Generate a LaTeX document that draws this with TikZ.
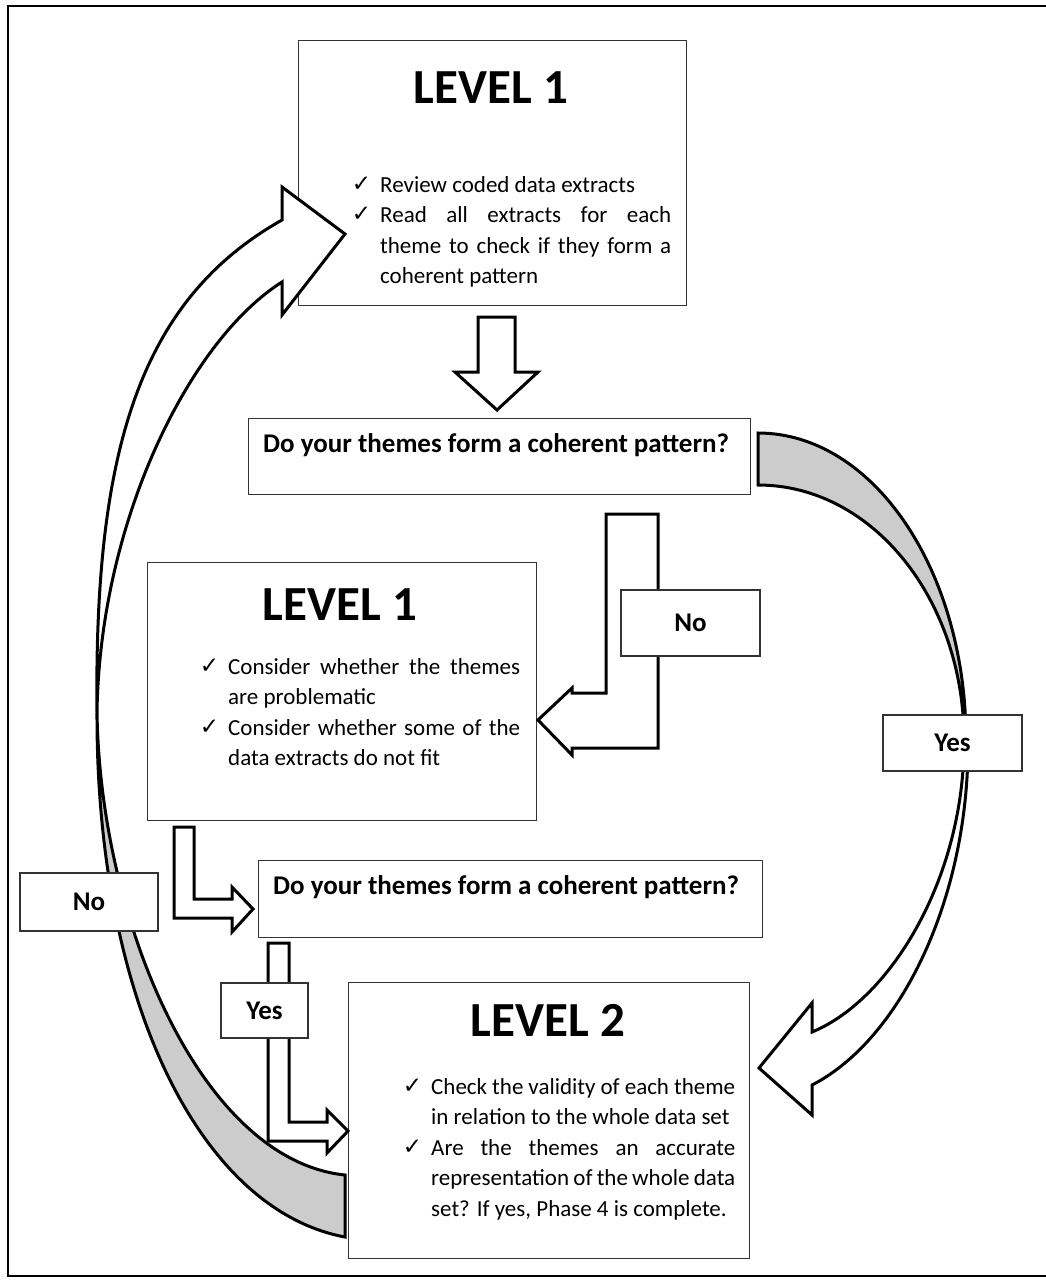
\documentclass[tikz,border=0pt]{standalone}
\usepackage{fontspec}
\setmainfont{Carlito}
\newfontfamily\symfont{DejaVu Sans}
\newcommand\tick{\leavevmode\llap{\raisebox{1pt}{\symfont\fontsize{23}{23}\selectfont ✓}\hspace{9pt}}\nobreak}
\begin{document}
\begin{tikzpicture}[x=1pt,y=-1pt,
  box/.style={draw=black!80, line width=1.3pt, fill=white, inner sep=0pt, anchor=north west},
  blockarrow/.style={draw=black, line width=3pt, fill=white, line join=miter},
  band/.style={draw=black, line width=3pt, fill=black!20, line join=miter},
  tag/.style={draw=black!80, line width=1.3pt, fill=white, inner sep=0pt,
    font=\bfseries\fontsize{27}{30}\selectfont},
  title/.style={font=\bfseries\fontsize{49}{56}\selectfont, inner sep=0pt},
  ask/.style={font=\bfseries\fontsize{27}{30}\selectfont, inner sep=0pt, anchor=base west},
  items/.style={font=\fontsize{23}{30.5}\selectfont, align=justify, inner sep=0pt,
    anchor=base west, execute at begin node={\tolerance=10000\hbadness=10000\pretolerance=-1}}
]
\useasboundingbox (0,0) rectangle (1045,1280);
\fill[white] (0,0) rectangle (1045,1280);

% page frame
\draw[line width=2pt] (1046,6) -- (8,6) -- (8,1276) -- (1046,1276);

% content boxes
\node[box, minimum width=388pt, minimum height=265pt] (lvA) at (298,40) {};
\node[box, minimum width=502pt, minimum height=76pt] (qA) at (248,418) {};
\node[box, minimum width=389pt, minimum height=258pt] (lvB) at (147,562) {};
\node[box, minimum width=504pt, minimum height=77pt] (qB) at (258,860) {};
\node[box, minimum width=401pt, minimum height=276pt] (lvC) at (348,982) {};

% texts of the boxes
\node[title] (lvAtitle) at (491,88) {LEVEL 1};
\node[items, text width=291pt] (lvAitems) at (380,192) {%
  \tick Review coded data extracts\par
  \tick Read all extracts for each\linebreak theme to check if they form a\linebreak coherent pattern\par};
\node[ask] (qAtext) at (263,452) {Do your themes form a coherent pattern?};
\node[title] (lvBtitle) at (340,605) {LEVEL 1};
\node[items, text width=292pt] (lvBitems) at (228,674) {%
  \tick Consider whether the themes\linebreak are problematic\par
  \tick Consider whether some of the\linebreak data extracts do not fit\par};
\node[ask] (qBtext) at (273,894) {Do your themes form a coherent pattern?};
\node[title] (lvCtitle) at (548,1020) {LEVEL 2};
\node[items, text width=304pt] (lvCitems) at (431,1094) {%
  \tick Check the validity of each theme\linebreak in relation to the whole data set\par
  \tick Are the themes an accurate\linebreak representation of the whole data\linebreak set? If yes, Phase 4 is complete.\par};

% left curved arrow: back face (grey) and front with head
\draw[band] (97,712) .. controls (96,1000) and (200,1210) .. (345,1237)
  -- (345,1175) .. controls (200,1160) and (100,920) .. (97,712) -- cycle;
\draw[blockarrow] (282,220) .. controls (140,300) and (94,450) .. (97,712)
  .. controls (100,520) and (190,340) .. (282,282)
  -- (282,315) -- (345,234) -- (282,187) -- cycle;

% right curved arrow: back face (grey) and front with head
\draw[band] (758,433) .. controls (873,433) and (966,570) .. (966,740)
  -- (964,740) .. controls (964,599) and (872,485) .. (758,485) -- cycle;
\draw[blockarrow] (964,745) .. controls (963,880) and (890,1000) .. (812,1032)
  -- (812,1003) -- (759,1068) -- (812,1115) -- (812,1085)
  .. controls (900,1040) and (968,900) .. (968,745) -- cycle;

% straight block arrows
\draw[blockarrow] (478,317) -- (515,317) -- (515,372) -- (538,372) -- (497,410)
  -- (455,372) -- (478,372) -- cycle;
\draw[blockarrow] (606,514) -- (658,514) -- (658,748) -- (572,748) -- (572,755)
  -- (538,720) -- (572,688) -- (572,693) -- (606,693) -- cycle;
\draw[blockarrow] (174,827) -- (194,827) -- (194,899) -- (232,899) -- (232,887)
  -- (253,909) -- (232,932) -- (232,918) -- (174,918) -- cycle;
\draw[blockarrow] (268,943) -- (289,943) -- (289,1122) -- (327,1122) -- (327,1110)
  -- (348,1131) -- (327,1153) -- (327,1141) -- (268,1141) -- cycle;

% answer labels
\node[tag, minimum width=139pt, minimum height=66pt] (noB) at (690.5,623) {No};
\node[tag, minimum width=139pt, minimum height=56pt] (yesR) at (952.5,743) {Yes};
\node[tag, minimum width=138pt, minimum height=58pt] (noL) at (89,902) {No};
\node[tag, minimum width=87pt, minimum height=55pt] (yesS) at (264.5,1010.5) {Yes};
\end{tikzpicture}
\end{document}
